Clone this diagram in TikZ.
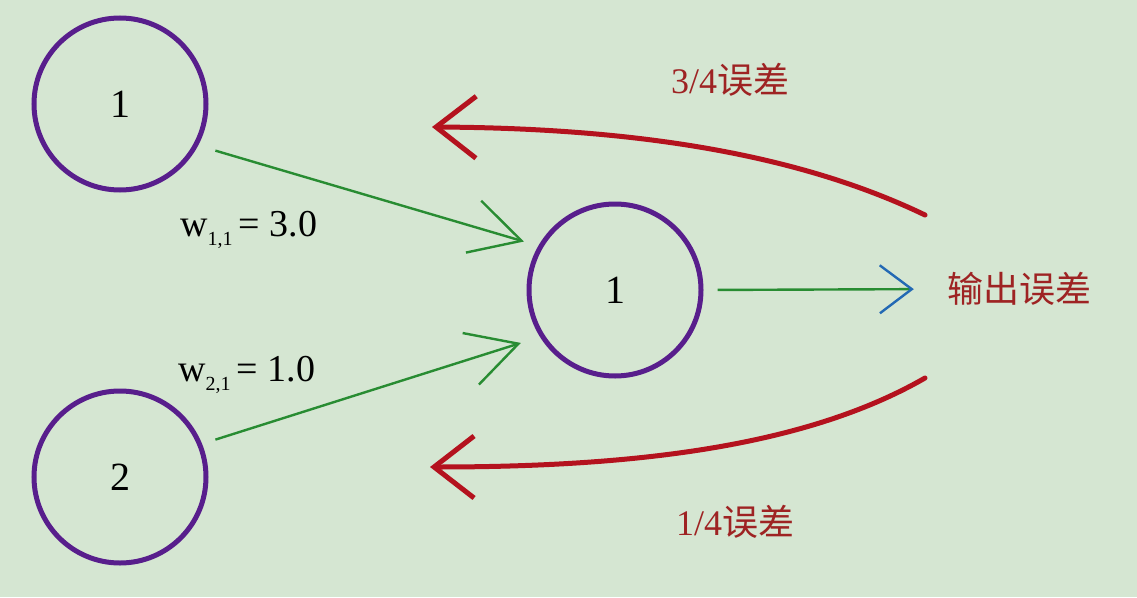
\documentclass[tikz,border=0pt]{standalone}
\usepackage{fontspec}
\setmainfont{Liberation Serif}
\newfontfamily\cjk{Noto Sans CJK SC}
\usetikzlibrary{arrows.meta}
\definecolor{bg}{RGB}{213,230,210}
\definecolor{npurple}{RGB}{88,30,140}
\definecolor{ggreen}{RGB}{40,140,50}
\definecolor{tblue}{RGB}{35,105,180}
\definecolor{rred}{RGB}{180,18,30}
\definecolor{tred}{RGB}{158,35,35}
\tikzset{
  neuron/.style={circle, draw=npurple, line width=5pt, minimum size=172pt, inner sep=0pt,
    font=\fontsize{40}{40}\selectfont},
  garrow/.style={draw=ggreen, line width=2.4pt, -{Straight Barb[length=50pt,width=54pt]}},
  oarrow/.style={draw=ggreen, line width=2.4pt, -{Straight Barb[length=32pt,width=48pt,color=tblue]}},
  rarrow/.style={draw=rred, line width=5pt, line cap=round, -{Straight Barb[length=40pt,width=62pt]}},
  wlabel/.style={anchor=base west, inner sep=0pt, font=\fontsize{38}{38}\selectfont},
  errlabel/.style={text=tred, inner sep=0pt, font=\fontsize{36}{36}\selectfont}
}
\newcommand{\wsub}[1]{\raisebox{-9pt}{\fontsize{20}{20}\selectfont #1}}
\begin{document}
\begin{tikzpicture}[x=1pt,y=-1pt]
\fill[bg] (0,0) rectangle (1137,597);
\useasboundingbox (0,0) rectangle (1137,597);

\node[neuron] (n1) at (120,104) {1};
\node[neuron] (n2) at (120,477) {2};
\node[neuron] (h) at (615,290) {1};

\node[errlabel] (out) at (1019,289) {{\cjk 输出误差}};
\node[errlabel] (t34) at (730,80) {3/4{\cjk 误差}};
\node[errlabel] (t14) at (735,522) {1/4{\cjk 误差}};

\node[wlabel] (w11) at (180,236) {w\wsub{1,1}\,= 3.0};
\node[wlabel] (w21) at (178,381) {w\wsub{2,1}\,= 1.0};

\draw[garrow, shorten <=18pt, shorten >=15pt] (n1.-28) -- (h.150);
\draw[garrow, shorten <=14pt, shorten >=20pt] (n2.22) -- (h.212);
\draw[oarrow, shorten <=14pt, shorten >=33pt] (h.east) -- (out.west);

\coordinate (r1s) at (925,215);
\coordinate (r1e) at (432,127);
\coordinate (r2s) at (925,378);
\coordinate (r2e) at (430,467);
\draw[rarrow] (r1s) .. controls (790,150) and (620,128) .. (r1e);
\draw[rarrow] (r2s) .. controls (800,450) and (620,467) .. (r2e);
\end{tikzpicture}
\end{document}
